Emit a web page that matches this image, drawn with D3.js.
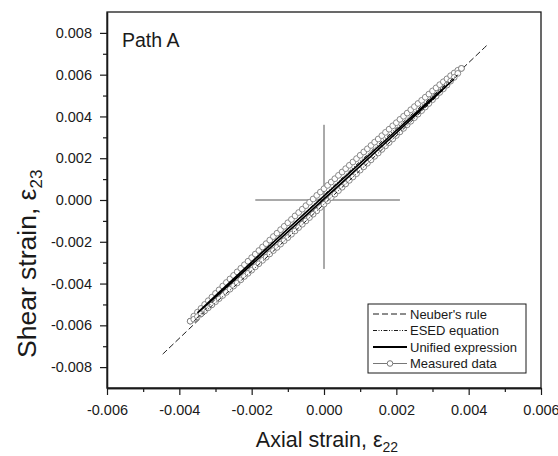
<!DOCTYPE html>
<html><head><meta charset="utf-8">
<script src="https://cdn.jsdelivr.net/npm/d3@7"></script>
<style>
body{margin:0;background:#fff;}
svg{display:block;font-family:"Liberation Sans",Arial,sans-serif;}
</style></head>
<body><svg id="c" width="558" height="456"></svg>
<script>
const xTicks = [-0.006,-0.004,-0.002,0,0.002,0.004,0.006];
const yTicks = [-0.008,-0.006,-0.004,-0.002,0,0.002,0.004,0.006,0.008];
const xMinor = [-0.005,-0.003,-0.001,0.001,0.003,0.005];
const yMinor = [-0.007,-0.005,-0.003,-0.001,0.001,0.003,0.005,0.007];
const seriesNames = ["Neuber's rule","ESED equation","Unified expression","Measured data"];

// Measured data loop (x shared by both branches)
const measuredX = [-0.0037,-0.0036,-0.0035,-0.0034,-0.0033,-0.0032,-0.0031,-0.0030,-0.0029,-0.0028,
-0.0027,-0.0026,-0.0025,-0.0024,-0.0023,-0.0022,-0.0021,-0.0020,-0.0019,-0.0018,
-0.0017,-0.0016,-0.0015,-0.0014,-0.0013,-0.0012,-0.0011,-0.0010,-0.0009,-0.0008,
-0.0007,-0.0006,-0.0005,-0.0004,-0.0003,-0.0002,-0.0001,0.0000,0.0001,0.0002,
0.0003,0.0004,0.0005,0.0006,0.0007,0.0008,0.0009,0.0010,0.0011,0.0012,
0.0013,0.0014,0.0015,0.0016,0.0017,0.0018,0.0019,0.0020,0.0021,0.0022,
0.0023,0.0024,0.0025,0.0026,0.0027,0.0028,0.0029,0.0030,0.0031,0.0032,
0.0033,0.0034,0.0035,0.0036,0.0037,0.0038];
const measuredUpperY = [-0.00580,-0.00556,-0.00537,-0.00519,-0.00500,-0.00482,-0.00465,-0.00447,-0.00430,-0.00412,
-0.00395,-0.00378,-0.00361,-0.00344,-0.00327,-0.00310,-0.00293,-0.00276,-0.00259,-0.00242,
-0.00225,-0.00209,-0.00192,-0.00175,-0.00159,-0.00142,-0.00126,-0.00109,-0.00093,-0.00076,
-0.00060,-0.00044,-0.00027,-0.00011,0.00005,0.00022,0.00038,0.00054,0.00070,0.00086,
0.00102,0.00118,0.00134,0.00150,0.00166,0.00182,0.00198,0.00214,0.00230,0.00245,
0.00261,0.00277,0.00292,0.00308,0.00324,0.00339,0.00355,0.00370,0.00386,0.00401,
0.00416,0.00432,0.00447,0.00462,0.00477,0.00492,0.00507,0.00522,0.00537,0.00552,
0.00566,0.00580,0.00595,0.00608,0.00621,0.00630];
const measuredLowerY = [-0.00580,-0.00571,-0.00558,-0.00545,-0.00531,-0.00516,-0.00502,-0.00487,-0.00472,-0.00457,
-0.00442,-0.00427,-0.00412,-0.00397,-0.00382,-0.00366,-0.00351,-0.00336,-0.00320,-0.00305,
-0.00289,-0.00274,-0.00258,-0.00242,-0.00227,-0.00211,-0.00195,-0.00180,-0.00164,-0.00148,
-0.00132,-0.00116,-0.00100,-0.00084,-0.00068,-0.00052,-0.00036,-0.00020,-0.00004,0.00012,
0.00028,0.00045,0.00061,0.00077,0.00094,0.00110,0.00126,0.00143,0.00159,0.00176,
0.00192,0.00209,0.00225,0.00242,0.00259,0.00275,0.00292,0.00309,0.00326,0.00343,
0.00360,0.00377,0.00394,0.00411,0.00428,0.00445,0.00462,0.00480,0.00497,0.00515,
0.00532,0.00550,0.00569,0.00587,0.00606,0.00630];

// Model loops: [x, y] pairs, lower (loading) and upper (unloading) branches
const unifiedLower = [[-0.0035,-0.0054],[-0.0025,-0.00387],[-0.0012,-0.00184],[0,0.00005],[0.0012,0.00194],[0.0025,0.00401],[0.0036,0.0058]];
const unifiedUpper = [[-0.0035,-0.0054],[-0.0025,-0.00377],[-0.0012,-0.00170],[0,0.00019],[0.0012,0.00208],[0.0025,0.00411],[0.0036,0.0058]];
const esedLower = [[-0.0036,-0.0058],[-0.0025,-0.00417],[-0.0012,-0.00213],[0,-0.00020],[0.0012,0.00175],[0.0025,0.00391],[0.0037,0.0060]];
const esedUpper = [[-0.0036,-0.0058],[-0.0025,-0.00387],[-0.0012,-0.00171],[0,0.00024],[0.0012,0.00217],[0.0025,0.00421],[0.0037,0.0060]];
const neuberLine = [[-0.00446,-0.00738],[0,-0.00002],[0.00455,0.00748]];
// Reference cross at origin
const crossX = [-0.0019, 0.0021];
const crossY = [-0.0033, 0.0036];

const svg = d3.select("#c");
const x = d3.scaleLinear().domain([-0.006,0.006]).range([107,541]);
const y = d3.scaleLinear().domain([-0.009,0.009]).range([388,12]);
const fmt = d => (Math.abs(d)<1e-12 ? 0 : d).toFixed(3);
const ink = "#1a1a1a";

// Frame
svg.append("rect").attr("x",x(-0.006)).attr("y",y(0.009))
  .attr("width",x(0.006)-x(-0.006)).attr("height",y(-0.009)-y(0.009))
  .attr("fill","none").attr("stroke",ink).attr("stroke-width",1.3);

// Axes
const gx = svg.append("g").attr("transform",`translate(0,${y(-0.009)})`)
  .call(d3.axisBottom(x).tickValues(xTicks).tickFormat(fmt).tickSize(7).tickSizeOuter(0).tickPadding(10));
const gxm = svg.append("g").attr("transform",`translate(0,${y(-0.009)})`)
  .call(d3.axisBottom(x).tickValues(xMinor).tickFormat("").tickSize(4).tickSizeOuter(0));
const gy = svg.append("g").attr("transform",`translate(${x(-0.006)},0)`)
  .call(d3.axisLeft(y).tickValues(yTicks).tickFormat(fmt).tickSize(7).tickSizeOuter(0).tickPadding(8));
const gym = svg.append("g").attr("transform",`translate(${x(-0.006)},0)`)
  .call(d3.axisLeft(y).tickValues(yMinor).tickFormat("").tickSize(4).tickSizeOuter(0));
[gx,gxm,gy,gym].forEach(g=>{
  g.select(".domain").attr("stroke",ink).attr("stroke-width",1.3);
  g.selectAll(".tick line").attr("stroke",ink).attr("stroke-width",1.2);
  g.selectAll(".tick text").attr("fill",ink).style("font-size","14.5px").style("font-family","'Liberation Sans',Arial,sans-serif");
});

// Axis titles
svg.append("text").attr("x",327).attr("y",447).attr("text-anchor","middle")
  .attr("fill",ink).style("font-size","21.5px")
  .text("Axial strain, ε").append("tspan").attr("dy",5).style("font-size","14px").text("22");
svg.append("text").attr("transform","translate(36,358) rotate(-90)").attr("text-anchor","start")
  .attr("fill",ink).style("font-size","26.5px")
  .text("Shear strain, ε").append("tspan").attr("dy",6).style("font-size","17px").text("23");

svg.append("text").attr("x",122).attr("y",47).attr("fill",ink).style("font-size","19.5px").text("Path A");

// Cross
svg.append("line").attr("x1",x(crossX[0])).attr("x2",x(crossX[1])).attr("y1",y(0)).attr("y2",y(0))
  .attr("stroke","#555").attr("stroke-width",1);
svg.append("line").attr("x1",x(0)).attr("x2",x(0)).attr("y1",y(crossY[0])).attr("y2",y(crossY[1]))
  .attr("stroke","#555").attr("stroke-width",1);

const line = d3.line().x(d=>x(d[0])).y(d=>y(d[1])).curve(d3.curveCatmullRom);
const loop = (lo, up) => lo.concat(up.slice().reverse().slice(1));

const styles = {
  neuber:{dash:"6,3",w:1},
  esed:{dash:"4,1.5,1,1.5,1,1.5",w:1},
  unified:{dash:null,w:1.6}
};

// Neuber
svg.append("path").attr("d",line(neuberLine)).attr("fill","none")
  .attr("stroke",ink).attr("stroke-width",styles.neuber.w).attr("stroke-dasharray",styles.neuber.dash);

// Measured data
const lowerPts = measuredX.map((v,i)=>[v,measuredLowerY[i]]);
const upperPts = measuredX.map((v,i)=>[v,measuredUpperY[i]]);
svg.append("path").attr("d",d3.line().x(d=>x(d[0])).y(d=>y(d[1]))(loop(lowerPts,upperPts)))
  .attr("fill","none").attr("stroke","#888").attr("stroke-width",0.8);
svg.append("g").selectAll("circle").data(upperPts.concat(lowerPts)).join("circle")
  .attr("cx",d=>x(d[0])).attr("cy",d=>y(d[1])).attr("r",2.9)
  .attr("fill","#fff").attr("stroke","#7a7a7a").attr("stroke-width",0.9);

// ESED
svg.append("path").attr("d",line(loop(esedLower,esedUpper))).attr("fill","none")
  .attr("stroke",ink).attr("stroke-width",styles.esed.w).attr("stroke-dasharray",styles.esed.dash);
// Unified
svg.append("path").attr("d",line(loop(unifiedLower,unifiedUpper))).attr("fill","none")
  .attr("stroke","#000").attr("stroke-width",styles.unified.w);

// Legend
const lg = svg.append("g");
lg.append("rect").attr("x",368).attr("y",304).attr("width",158).attr("height",69)
  .attr("fill","#fff").attr("stroke",ink).attr("stroke-width",1);
seriesNames.forEach((name,i)=>{
  const yy = 314 + i*16.5;
  const l = lg.append("line").attr("x1",373).attr("x2",407).attr("y1",yy).attr("y2",yy).attr("stroke",ink);
  if(i===0) l.attr("stroke-dasharray",styles.neuber.dash).attr("stroke-width",1);
  if(i===1) l.attr("stroke-dasharray",styles.esed.dash).attr("stroke-width",1);
  if(i===2) l.attr("stroke-width",1.8).attr("stroke","#000");
  if(i===3){ l.attr("stroke","#777").attr("stroke-width",1);
    lg.append("circle").attr("cx",390).attr("cy",yy).attr("r",2.8).attr("fill","#fff").attr("stroke","#777"); }
  lg.append("text").attr("x",410).attr("y",yy).attr("dy","0.35em").attr("fill",ink)
    .style("font-size","13px").text(name);
});
</script></body></html>
